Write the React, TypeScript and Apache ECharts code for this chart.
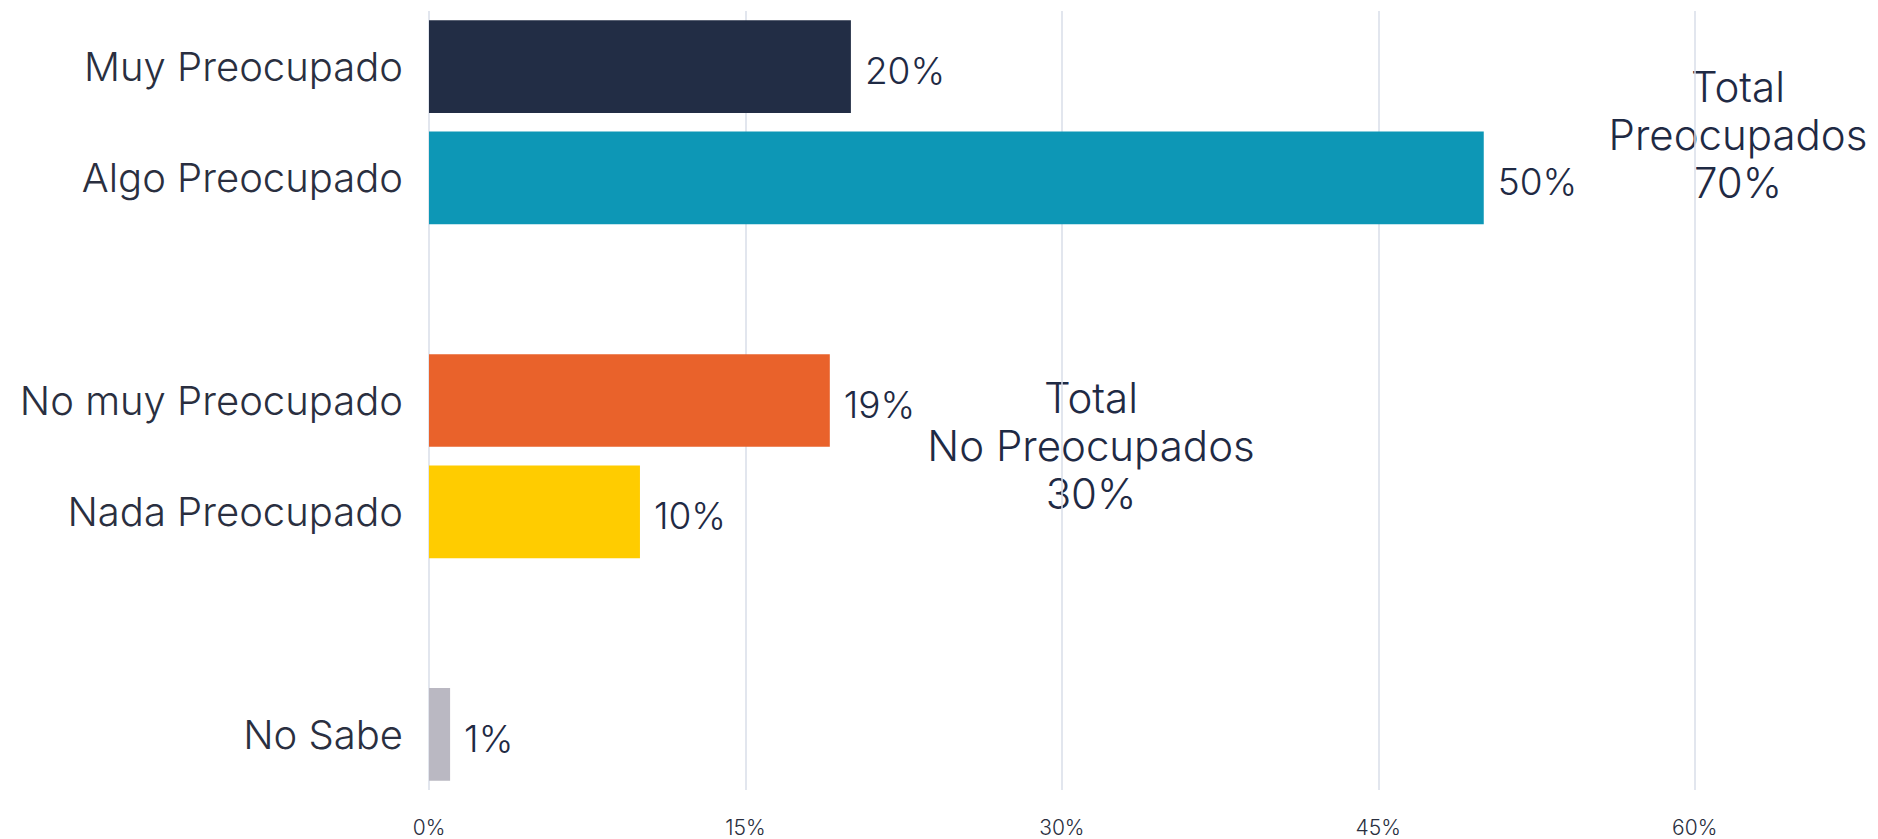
import React, { useEffect, useRef } from "react";
import * as echarts from "echarts";

const categories = [
  "Muy Preocupado",
  "Algo Preocupado",
  "",
  "No muy Preocupado",
  "Nada Preocupado",
  "",
  "No Sabe",
];
const values: (number | string)[] = [20, 50, "-", 19, 10, "-", 1];
const barColors = ["#222d45", "#0d97b6", "#ffffff", "#e9622b", "#ffcc00", "#ffffff", "#bab8c2"];
const tickValues = [0, 15, 30, 45, 60];
const annotations = [
  { text: "Total\nPreocupados\n70%", x: 1730, y: 126 },
  { text: "Total\nNo Preocupados\n30%", x: 1083, y: 437 },
];

const FONT = "Inter";
const TEXT = "#2a2f40";
const NAVY = "#1f2a44";

export default function App() {
  const ref = useRef<HTMLDivElement>(null);
  useEffect(() => {
    if (!ref.current) return;
    const chart = echarts.init(ref.current, null, { renderer: "svg" });
    chart.setOption({
      animation: false,
      grid: { left: 421, top: 3, bottom: 49, right: 0, outerBoundsMode: "none", containLabel: false },
      xAxis: {
        type: "value",
        min: 0,
        max: 68.31,
        interval: 15,
        axisLine: { show: false },
        axisTick: { show: false },
        splitLine: { show: true, showMaxLine: false, lineStyle: { color: "#d9dee9", width: 1.5 } },
        axisLabel: {
          margin: 27,
          fontSize: 21,
          fontFamily: FONT,
          fontWeight: 300,
          color: TEXT,
          showMaxLabel: false,
          formatter: (v: number) => (tickValues.includes(v) ? v + "%" : ""),
        },
      },
      yAxis: {
        type: "category",
        inverse: true,
        data: categories,
        axisLine: { show: false },
        axisTick: { show: false },
        axisLabel: {
          margin: 26,
          fontSize: 40,
          fontFamily: FONT,
          fontWeight: 300,
          color: TEXT,
        },
      },
      series: [
        {
          type: "bar",
          barCategoryGap: "16.7%",
          data: values.map((v, i) => ({ value: v, itemStyle: { color: barColors[i] } })),
          label: {
            show: true,
            position: "right",
            distance: 14,
            offset: [0, 4],
            fontSize: 37,
            fontFamily: FONT,
            fontWeight: 300,
            color: NAVY,
            formatter: (p: any) => p.value + "%",
          },
        },
      ],
      graphic: annotations.map((a) => ({
        type: "text",
        x: a.x,
        y: a.y,
        style: {
          text: a.text,
          fontSize: 42,
          lineHeight: 48,
          fontFamily: FONT,
          fontWeight: 300,
          fill: NAVY,
          textAlign: "center",
          textVerticalAlign: "middle",
        },
      })),
    });
    return () => chart.dispose();
  }, []);
  return (
    <div
      ref={ref}
      style={{ position: "absolute", left: 8, top: 8, width: 1862, height: 831 }}
    />
  );
}
